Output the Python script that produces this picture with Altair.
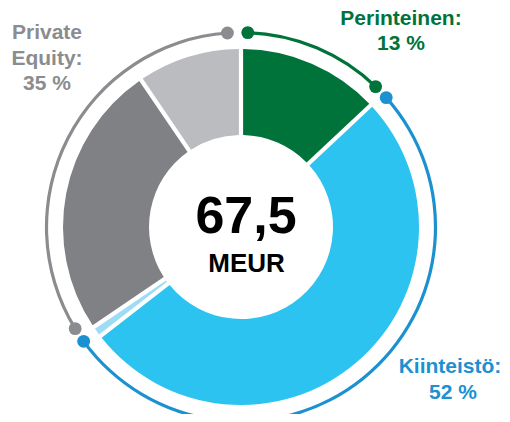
import altair as alt
import pandas as pd

# ---- data ----
slice_names = ["Perinteinen", "Kiinteistö", "Kiinteistö (muu)", "Private Equity A", "Private Equity B"]
slice_values = [13, 51.5, 1, 25, 9.5]
slice_colors = ["#00733b", "#2cc3f1", "#9edcf5", "#808184", "#bbbcbf"]

group_names = ["Perinteinen", "Kiinteistö", "Private Equity"]
group_labels = [["Perinteinen:", "13 %"], ["Kiinteistö:", "52 %"], ["Private", "Equity:", "35 %"]]
ring_start_deg = [2, 48.3, 238.5]
ring_end_deg = [43.8, 234, 356]
ring_colors = ["#00733b", "#1b91d0", "#8b8c8f"]

total_label = "67,5"
unit_label = "MEUR"

# ---- layout ----
CX, CY = 233, 219
R_IN, R_OUT = 92, 178
R_RING = 194.5
FONT = "Liberation Sans"

df_slices = pd.DataFrame({"name": slice_names, "value": slice_values,
                          "order": list(range(len(slice_names)))})
df_ring = pd.DataFrame({"group": group_names, "start": ring_start_deg, "end": ring_end_deg})
df_dots = pd.DataFrame({
    "group": group_names + group_names,
    "angle": ring_start_deg + ring_end_deg,
    "o": [0, 2, 1, 0, 2, 1],
})

slices = alt.Chart(df_slices).mark_arc(
    innerRadius=R_IN, outerRadius=R_OUT, padAngle=0.021
).encode(
    theta=alt.Theta("value:Q", stack=True, scale=alt.Scale(domain=[0, 100])),
    order=alt.Order("order:Q"),
    color=alt.Color("name:N", scale=alt.Scale(domain=slice_names, range=slice_colors), legend=None),
    x=alt.value(CX), y=alt.value(CY),
)

ring = alt.Chart(df_ring).mark_arc(
    innerRadius=R_RING - 1.6, outerRadius=R_RING + 1.6
).encode(
    theta=alt.Theta("start:Q", stack=None, scale=alt.Scale(domain=[0, 360])),
    theta2="end:Q",
    color=alt.Color("group:N", scale=alt.Scale(domain=group_names, range=ring_colors), legend=None),
    x=alt.value(CX), y=alt.value(CY),
)

dots = alt.Chart(df_dots).transform_calculate(
    px=f"{CX} + {R_RING} * sin(datum.angle * PI / 180)",
    py=f"{CY} - {R_RING} * cos(datum.angle * PI / 180)",
).mark_circle(size=165, opacity=1).encode(
    x=alt.X("px:Q", scale=None, axis=None),
    y=alt.Y("py:Q", scale=None, axis=None),
    color=alt.Color("group:N", scale=alt.Scale(domain=group_names, range=ring_colors), legend=None),
    order=alt.Order("o:Q"),
)


def text_layer(txt, x, y, size, color):
    return alt.Chart(pd.DataFrame({"t": [txt]})).mark_text(
        font=FONT, fontSize=size, fontWeight="bold", color=color,
        align="center", baseline="alphabetic",
    ).encode(text="t:N", x=alt.value(x), y=alt.value(y))


texts = [
    text_layer(group_labels[0][0], 393, 17, 21, ring_colors[0]),
    text_layer(group_labels[0][1], 393, 42, 21, ring_colors[0]),
    text_layer(group_labels[1][0], 442, 365, 21, ring_colors[1]),
    text_layer(group_labels[1][1], 445, 391, 21, ring_colors[1]),
    text_layer(group_labels[2][0], 39, 31, 21, ring_colors[2]),
    text_layer(group_labels[2][1], 39, 57, 21, ring_colors[2]),
    text_layer(group_labels[2][2], 39, 82, 21, ring_colors[2]),
    text_layer(total_label, 238, 225, 52, "#000000"),
    text_layer(unit_label, 238.5, 264, 26, "#000000"),
]

chart = alt.layer(slices, ring, dots, *texts).resolve_scale(
    color="independent", theta="independent"
).properties(
    width=494, height=406, padding=0, autosize=alt.AutoSizeParams(type="none")
).configure_view(stroke=None)

chart.save("out.html", embed_options={"renderer": "svg", "actions": False})
